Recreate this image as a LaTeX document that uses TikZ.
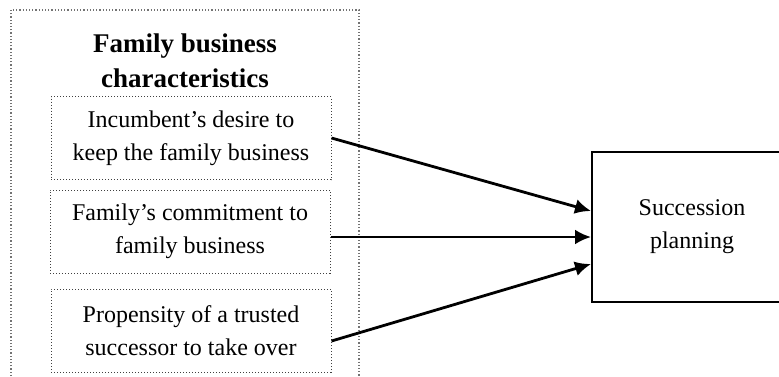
\documentclass[tikz,border=0pt]{standalone}
\usepackage{fontspec}
\setmainfont{Liberation Serif}
\usetikzlibrary{arrows.meta}

\begin{document}
\begin{tikzpicture}[x=0.5pt,y=-0.5pt,
	factor/.style={draw=black!75,densely dotted,line width=0.5pt,minimum width=140pt,minimum height=41.5pt,align=center,font=\fontsize{12}{16.5}\selectfont},
	target/.style={draw,line width=1pt,minimum width=110pt,minimum height=75pt},
	link/.style={line width=1.4pt,-{Latex[length=8pt,width=7.5pt]}}
	]
	\useasboundingbox (0,0) rectangle (779,376);
	% outer group
	\draw[black!55,densely dotted,line width=0.6pt] (11,376) -- (11,10) -- (359,10) -- (359,376);
	\node[align=center,font=\fontsize{13.5}{17.5}\selectfont\bfseries](title) at (185,61) {Family business\\characteristics};
	\node[factor](desire) at (191,138) {Incumbent’s desire to\\keep the family business};
	\node[factor](commit) at (190,231.5) {Family’s commitment to\\family business};
	\node[factor](trusted) at (191,330.5) {Propensity of a trusted\\successor to take over};
	% right box runs past the edge of the picture
	\node[target](plan) at (702,227) {};
	\node[align=center,font=\fontsize{12}{16.5}\selectfont](plantext) at (692,227) {Succession\\planning};
	\draw[link] (desire.east) -- ([yshift=8pt]plan.west);
	\draw[link] ([yshift=-2.75pt]commit.east) -- ([yshift=-5pt]plan.west);
	\draw[link] ([yshift=-5.25pt]trusted.east) -- ([yshift=-18.5pt]plan.west);
\end{tikzpicture}
\end{document}
